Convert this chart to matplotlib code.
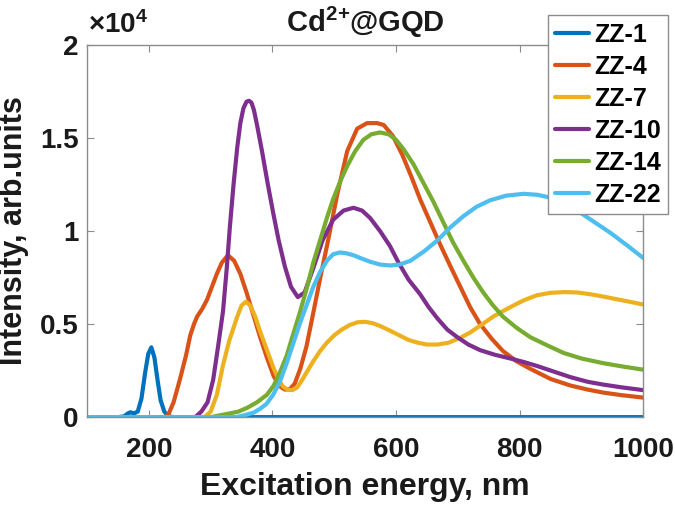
import matplotlib.pyplot as plt
import numpy as np
from matplotlib.ticker import FuncFormatter

plt.rcParams['font.family'] = ['Liberation Sans', 'DejaVu Sans']
plt.rcParams['font.weight'] = 'bold'
plt.rcParams['mathtext.fontset'] = 'custom'
plt.rcParams['mathtext.rm'] = 'Liberation Sans:bold'
plt.rcParams['mathtext.bf'] = 'Liberation Sans:bold'
plt.rcParams['mathtext.default'] = 'bf'

# -----------------------------
# Data (intensity in units of 1e4)
# -----------------------------
x1 = [100, 150, 160, 166, 170, 176, 182, 188, 194, 199, 204, 209, 214, 219, 225, 231, 240, 1000]
y1 = [0, 0, 0.004, 0.02, 0.026, 0.02, 0.03, 0.1, 0.24, 0.34, 0.375, 0.32, 0.2, 0.09, 0.03, 0.005, 0, 0]

x4 = [100, 225, 231, 240, 250, 260, 267, 273, 278, 286, 294, 302, 310, 318, 328, 338, 348,
      358, 369, 380, 391, 402, 412, 420, 428, 436, 445, 455, 466, 478, 490, 505, 521, 537,
      553, 569, 580, 595, 610, 625, 639, 655, 671, 688, 704, 720, 736, 755, 773, 795, 817,
      850, 882, 910, 935, 965, 1000]
y4 = [0, 0, 0.01, 0.08, 0.2, 0.33, 0.44, 0.5, 0.54, 0.58, 0.63, 0.7, 0.77, 0.83, 0.87, 0.84, 0.77,
      0.67, 0.55, 0.43, 0.32, 0.22, 0.165, 0.148, 0.15, 0.18, 0.26, 0.38, 0.56, 0.76, 0.95, 1.2, 1.43, 1.55,
      1.58, 1.58, 1.57, 1.51, 1.41, 1.29, 1.17, 1.05, 0.93, 0.81, 0.7, 0.59, 0.5, 0.42, 0.355, 0.3, 0.26,
      0.205, 0.17, 0.148, 0.132, 0.118, 0.105]

x7 = [100, 290, 300, 310, 320, 330, 343, 350, 357, 364, 372, 380, 390, 401, 410, 417, 424,
      432, 440, 448, 456, 466, 477, 488, 500, 512, 525, 538, 550, 562, 574, 590, 605, 620,
      635, 650, 667, 685, 703, 720, 740, 757, 773, 790, 808, 828, 850, 872, 893, 915, 935,
      955, 975, 1000]
y7 = [0, 0, 0.03, 0.12, 0.28, 0.41, 0.54, 0.6, 0.62, 0.6, 0.54, 0.46, 0.37, 0.27, 0.2, 0.165, 0.148,
      0.145, 0.16, 0.2, 0.245, 0.3, 0.355, 0.4, 0.44, 0.47, 0.495, 0.51, 0.512, 0.505, 0.49, 0.465, 0.44,
      0.415, 0.4, 0.39, 0.39, 0.4, 0.425, 0.455, 0.5, 0.54, 0.57, 0.6, 0.63, 0.655, 0.668, 0.672, 0.67,
      0.66, 0.648, 0.635, 0.622, 0.605]

x10 = [100, 275, 285, 295, 304, 312, 320, 326, 331, 337, 343, 348, 353, 358, 362, 366, 370, 375,
       383, 392, 401, 410, 420, 430, 441, 452, 466, 481, 498, 515, 531, 545, 558, 574, 590, 604,
       620, 639, 653, 667, 683, 699, 717, 736, 760, 785, 808, 828, 855, 882, 910, 935, 965, 1000]
y10 = [0, 0, 0.03, 0.08, 0.2, 0.38, 0.57, 0.8, 1.02, 1.25, 1.45, 1.58, 1.66, 1.695, 1.7, 1.69, 1.65,
       1.57, 1.43, 1.26, 1.1, 0.95, 0.81, 0.7, 0.645, 0.67, 0.8, 0.95, 1.06, 1.11, 1.125, 1.11, 1.07, 1.0,
       0.92, 0.83, 0.74, 0.66, 0.59, 0.53, 0.47, 0.43, 0.39, 0.36, 0.335, 0.315, 0.295, 0.275, 0.245,
       0.215, 0.19, 0.175, 0.16, 0.145]

x14 = [100, 300, 331, 345, 359, 375, 391, 402, 412, 423, 433, 445, 456, 466, 477, 488, 498,
       510, 521, 534, 547, 560, 574, 588, 600, 612, 628, 644, 660, 676, 692, 709, 725, 741,
       757, 773, 795, 817, 845, 871, 900, 935, 965, 1000]
y14 = [0, 0, 0.02, 0.03, 0.05, 0.08, 0.12, 0.17, 0.24, 0.33, 0.44, 0.57, 0.7, 0.83, 0.95, 1.07, 1.17,
       1.27, 1.35, 1.43, 1.49, 1.52, 1.53, 1.52, 1.49, 1.44, 1.36, 1.26, 1.16, 1.05, 0.94, 0.84, 0.75, 0.67,
       0.6, 0.54, 0.48, 0.43, 0.385, 0.345, 0.315, 0.29, 0.273, 0.255]

x22 = [100, 340, 355, 370, 380, 390, 401, 412, 423, 433, 444, 455, 466, 477, 488, 498, 509,
       520, 531, 542, 558, 574, 590, 606, 623, 645, 667, 688, 709, 730, 752, 778, 806, 828,
       849, 871, 893, 920, 947, 975, 1000]
y22 = [0, 0, 0.01, 0.025, 0.045, 0.07, 0.12, 0.19, 0.29, 0.39, 0.5, 0.6, 0.7, 0.78, 0.84, 0.875, 0.885,
       0.88, 0.87, 0.855, 0.835, 0.82, 0.815, 0.82, 0.84, 0.89, 0.95, 1.02, 1.08, 1.13, 1.165, 1.19, 1.2,
       1.195, 1.18, 1.15, 1.11, 1.05, 0.99, 0.92, 0.855]

labels = ['ZZ-1', 'ZZ-4', 'ZZ-7', 'ZZ-10', 'ZZ-14', 'ZZ-22']
colors = ['#0072BD', '#D95319', '#EDB120', '#7E2F8E', '#77AC30', '#4DBEEE']
series = [(x1, y1), (x4, y4), (x7, y7), (x10, y10), (x14, y14), (x22, y22)]

# -----------------------------
# Figure
# -----------------------------
fig = plt.figure(figsize=(6.75, 5.05), dpi=100)
ax = fig.add_axes([0.129, 0.174, 0.824, 0.737])

for (xs, ys), lab, c in zip(series, labels, colors):
    ax.plot(xs, np.array(ys) * 1e4, color=c, lw=3, label=lab,
            solid_joinstyle='round', solid_capstyle='round')

ax.set_xlim(100, 1000)
ax.set_ylim(0, 2e4)
ax.set_xticks([200, 400, 600, 800, 1000])
ax.set_yticks([0, 0.5e4, 1e4, 1.5e4, 2e4])
ax.yaxis.set_major_formatter(FuncFormatter(lambda v, p: '%g' % (v / 1e4)))

for s in ax.spines.values():
    s.set_color('#8c8c8c')
    s.set_linewidth(1)
ax.tick_params(direction='in', top=True, right=True, length=5,
               color='#8c8c8c', labelsize=20, labelcolor='#1a1a1a')
ax.tick_params(axis='x', pad=14)
ax.tick_params(axis='y', pad=6)
for t in ax.get_xticklabels() + ax.get_yticklabels():
    t.set_fontweight('bold')

ax.set_xlabel('Excitation energy, nm', fontsize=23, fontweight='bold',
              labelpad=7, color='#1a1a1a')
ax.set_ylabel('Intensity, arb.units', fontsize=22, fontweight='bold',
              labelpad=8, color='#1a1a1a')
ax.set_title(r'$\mathbf{Cd^{2\!+}\!@GQD}$', fontsize=21, pad=9, x=0.5,
             color='#1a1a1a')
fig.text(0.131, 0.922, '\u00d710$^{4}$', fontsize=20, fontweight='bold',
         ha='left', va='bottom', color='#1a1a1a')

leg = ax.legend(loc='upper right', bbox_to_anchor=(0.99, 0.97),
                bbox_transform=fig.transFigure, borderaxespad=0,
                prop={'weight': 'bold', 'size': 18},
                handlelength=1.35, handletextpad=0.2, labelspacing=0.32,
                borderpad=0.3, fancybox=False, framealpha=1,
                edgecolor='#8c8c8c')
leg.get_frame().set_linewidth(1)

fig.savefig('out.png', dpi=100)
